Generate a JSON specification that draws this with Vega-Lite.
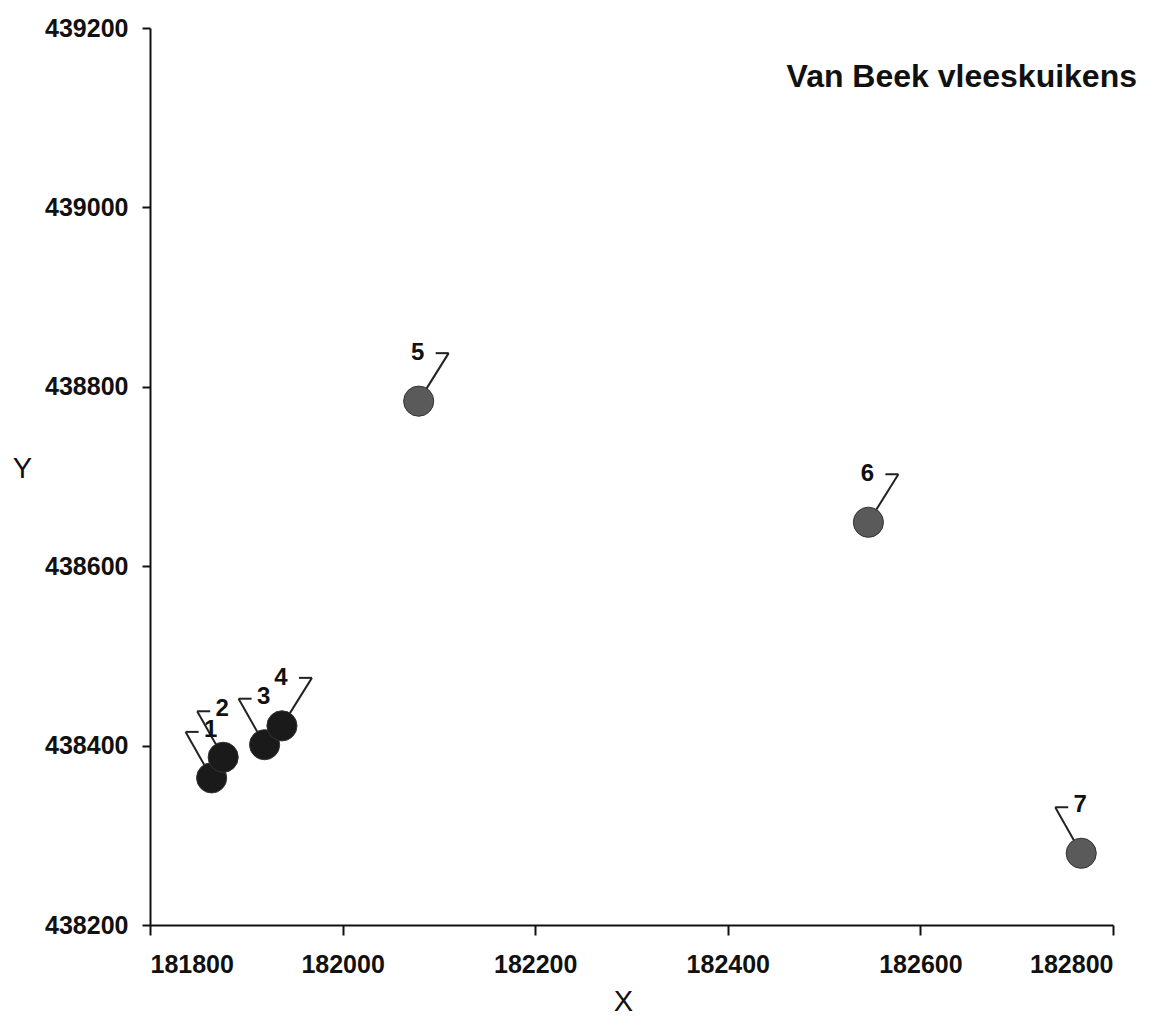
{
  "$schema": "https://vega.github.io/schema/vega-lite/v6.json",
  "autosize": "none",
  "padding": {"left": 150, "top": 28, "right": 46, "bottom": 95},
  "width": 963,
  "height": 897,
  "background": "white",
  "title": {
    "text": "Van Beek vleeskuikens",
    "anchor": "end",
    "frame": "group",
    "font": "Liberation Sans",
    "fontSize": 32,
    "fontWeight": "bold",
    "color": "#111111",
    "dx": 24,
    "dy": 82
  },
  "config": {
    "view": {"stroke": null},
    "axis": {
      "grid": false,
      "domainColor": "#111111",
      "domainWidth": 2,
      "tickColor": "#111111",
      "tickWidth": 2,
      "labelFont": "Liberation Sans",
      "labelFontWeight": "bold",
      "labelFontSize": 25,
      "labelColor": "#111111",
      "titleFont": "Liberation Sans",
      "titleFontWeight": "normal",
      "titleFontSize": 29,
      "titleColor": "#111111"
    }
  },
  "data": {
    "values": [
      {"id": "1", "n": 1, "x": 181864, "y": 438364},
      {"id": "2", "n": 2, "x": 181876, "y": 438387},
      {"id": "3", "n": 3, "x": 181919, "y": 438401},
      {"id": "4", "n": 4, "x": 181937, "y": 438422},
      {"id": "5", "n": 5, "x": 182079, "y": 438784},
      {"id": "6", "n": 6, "x": 182546, "y": 438649},
      {"id": "7", "n": 7, "x": 182767, "y": 438280}
    ]
  },
  "encoding": {
    "x": {
      "field": "x",
      "type": "quantitative",
      "scale": {"domain": [181800, 182800], "nice": false, "zero": false},
      "axis": {
        "values": [181800, 182000, 182200, 182400, 182600, 182800],
        "format": "d",
        "tickSize": 10,
        "labelPadding": 17,
        "title": "X",
        "titleX": 473,
        "titleY": 76,
        "titleAlign": "center",
        "titleBaseline": "middle"
      }
    },
    "y": {
      "field": "y",
      "type": "quantitative",
      "scale": {"domain": [438200, 439200], "nice": false, "zero": false},
      "axis": {
        "values": [438200, 438400, 438600, 438800, 439000, 439200],
        "format": "d",
        "tickSize": 8,
        "labelPadding": 14,
        "title": "Y",
        "titleAngle": 0,
        "titleX": -128,
        "titleY": 440,
        "titleAlign": "center",
        "titleBaseline": "middle"
      }
    }
  },
  "layer": [
    {
      "transform": [{"filter": "datum.n <= 3 || datum.n == 7"}],
      "mark": {"type": "rule", "color": "#222222", "strokeWidth": 2, "x2Offset": -26, "y2Offset": -46},
      "encoding": {"x2": {"field": "x"}, "y2": {"field": "y"}}
    },
    {
      "transform": [{"filter": "datum.n <= 3 || datum.n == 7"}],
      "mark": {"type": "rule", "color": "#222222", "strokeWidth": 2, "xOffset": -26, "yOffset": -46, "x2Offset": -13, "y2Offset": -46},
      "encoding": {"x2": {"field": "x"}, "y2": {"field": "y"}}
    },
    {
      "transform": [{"filter": "datum.n >= 4 && datum.n <= 6"}],
      "mark": {"type": "rule", "color": "#222222", "strokeWidth": 2, "x2Offset": 30, "y2Offset": -48},
      "encoding": {"x2": {"field": "x"}, "y2": {"field": "y"}}
    },
    {
      "transform": [{"filter": "datum.n >= 4 && datum.n <= 6"}],
      "mark": {"type": "rule", "color": "#222222", "strokeWidth": 2, "xOffset": 17, "yOffset": -48, "x2Offset": 30, "y2Offset": -48},
      "encoding": {"x2": {"field": "x"}, "y2": {"field": "y"}}
    },
    {
      "mark": {"type": "circle", "size": 908, "opacity": 1, "stroke": "#333333", "strokeWidth": 1},
      "encoding": {
        "color": {
          "condition": {"test": "datum.n <= 4", "value": "#1a1a1a"},
          "value": "#5a5a5a"
        }
      }
    },
    {
      "mark": {
        "type": "text",
        "font": "Liberation Sans",
        "fontWeight": "bold",
        "fontSize": 24,
        "color": "#111111",
        "dx": -1,
        "dy": -48,
        "baseline": "middle",
        "align": "center"
      },
      "encoding": {"text": {"field": "id"}}
    }
  ]
}
